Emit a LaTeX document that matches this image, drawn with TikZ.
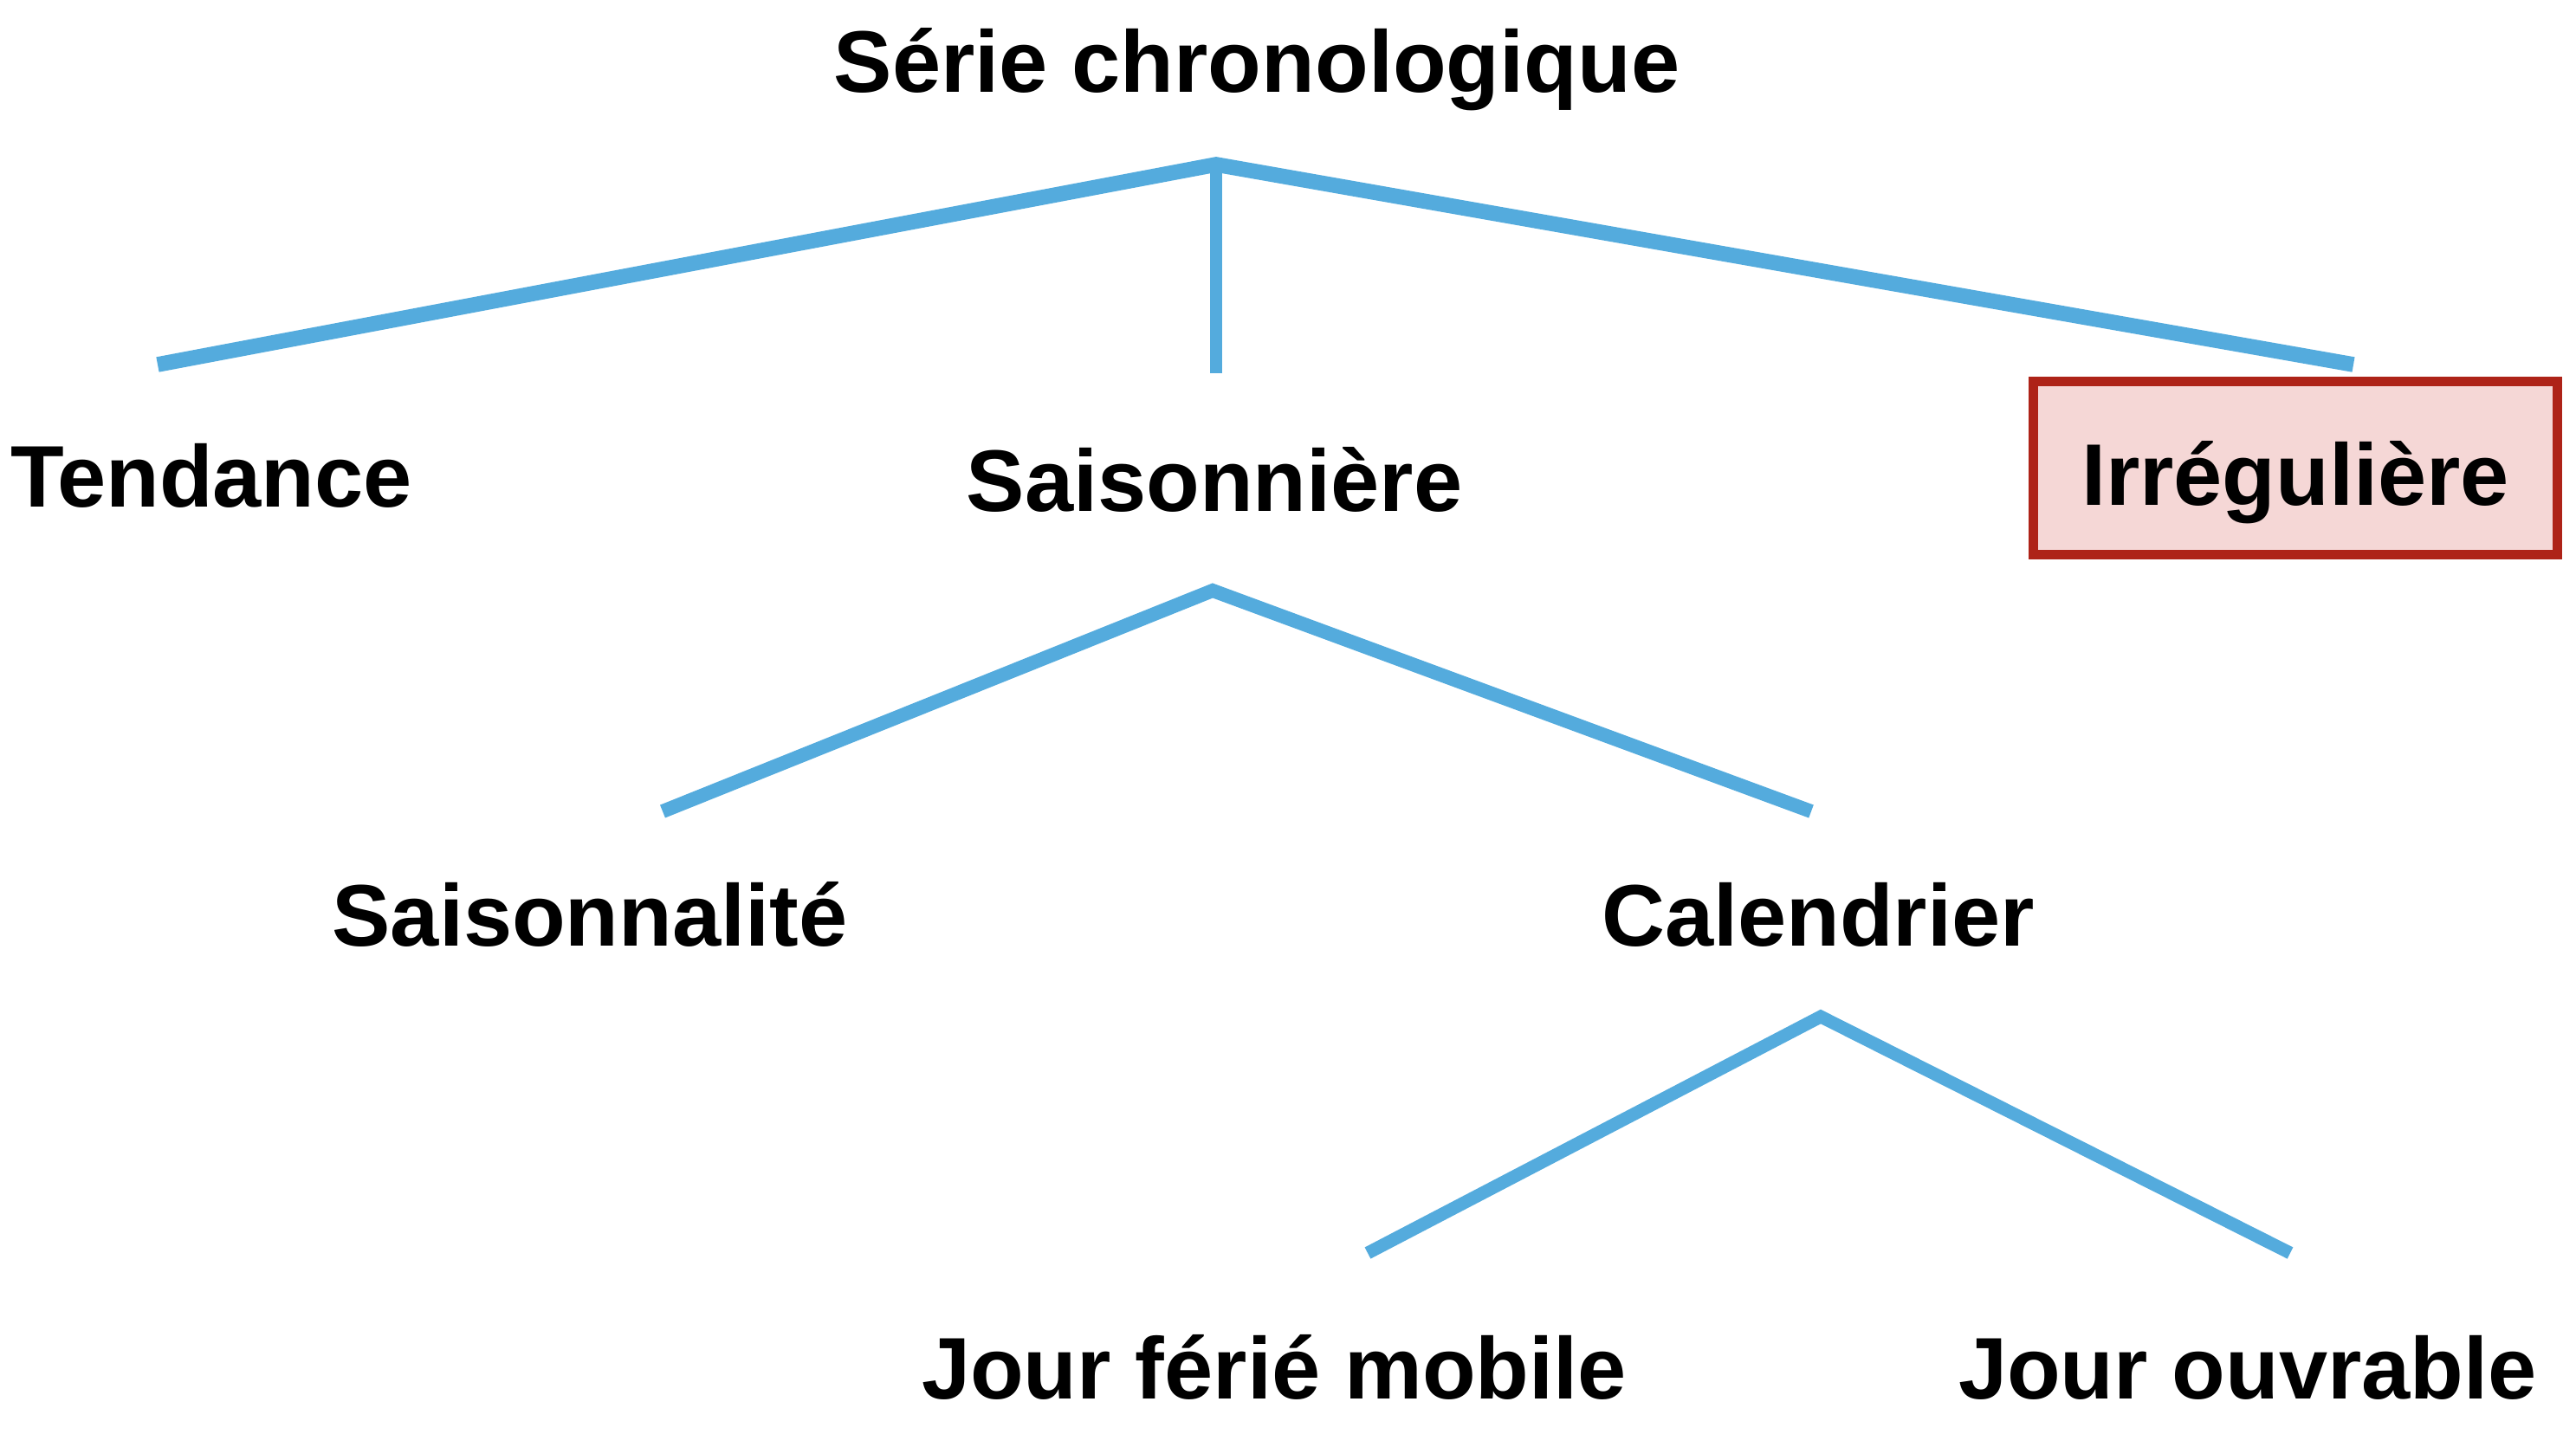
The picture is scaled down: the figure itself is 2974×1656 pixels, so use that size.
\documentclass[tikz,border=0pt]{standalone}
\usepackage{fontspec}
\setmainfont{Liberation Sans}
\definecolor{branch}{RGB}{84,171,221}
\definecolor{irrborder}{RGB}{174,35,24}
\definecolor{irrfill}{RGB}{245,215,214}
\begin{document}
\begin{tikzpicture}[x=0.25pt,y=-0.25pt,
  lbl/.style={font=\fontsize{25.25pt}{30pt}\selectfont\bfseries, inner sep=0pt, anchor=base, text=black},
  irrbox/.style={lbl, draw=irrborder, fill=irrfill, line width=2.75pt,
    text height=35.875pt, text depth=14.125pt, minimum width=151.25pt},
  lvlone/.style={draw=branch, line width=4.4pt, line join=miter, line cap=butt},
  lvltwo/.style={draw=branch, line width=4pt, line join=miter, line cap=butt},
  lvlthree/.style={draw=branch, line width=3.7pt, line join=miter, line cap=butt},
  vbar/.style={draw=branch, line width=3.4pt, line cap=butt}]
\useasboundingbox (0,0) rectangle (2974,1656);
\fill[white] (0,0) rectangle (2974,1656);

% junction and end coordinates
\coordinate (a1) at (1404,190);
\coordinate (t1) at (182,421);
\coordinate (i1) at (2717,421);
\coordinate (s1top) at (1404,188);
\coordinate (s1) at (1404,431);
\coordinate (a2) at (1400,682);
\coordinate (l2) at (765,937);
\coordinate (r2) at (2091,937);
\coordinate (a3) at (2102,1174);
\coordinate (l3) at (1579,1447);
\coordinate (r3) at (2644,1447);

% connectors
\draw[lvlone] (t1) -- (a1) -- (i1);
\draw[vbar] (s1top) -- (s1);
\draw[lvltwo] (l2) -- (a2) -- (r2);
\draw[lvlthree] (l3) -- (a3) -- (r3);

% labels
\node[lbl] (root) at (1451,107) {Série chronologique};
\node[lbl] (tend) at (244,586) {Tendance};
\node[lbl] (sais) at (1402,591) {Saisonnière};
\node[irrbox] (irr) at (2650,584) {Irrégulière};
\node[lbl] (saisn) at (681,1092) {Saisonnalité};
\node[lbl] (cal) at (2099,1092) {Calendrier};
\node[lbl] (jfm) at (1471,1615) {Jour férié mobile};
\node[lbl] (jo) at (2595,1615) {Jour ouvrable};
\end{tikzpicture}
\end{document}
